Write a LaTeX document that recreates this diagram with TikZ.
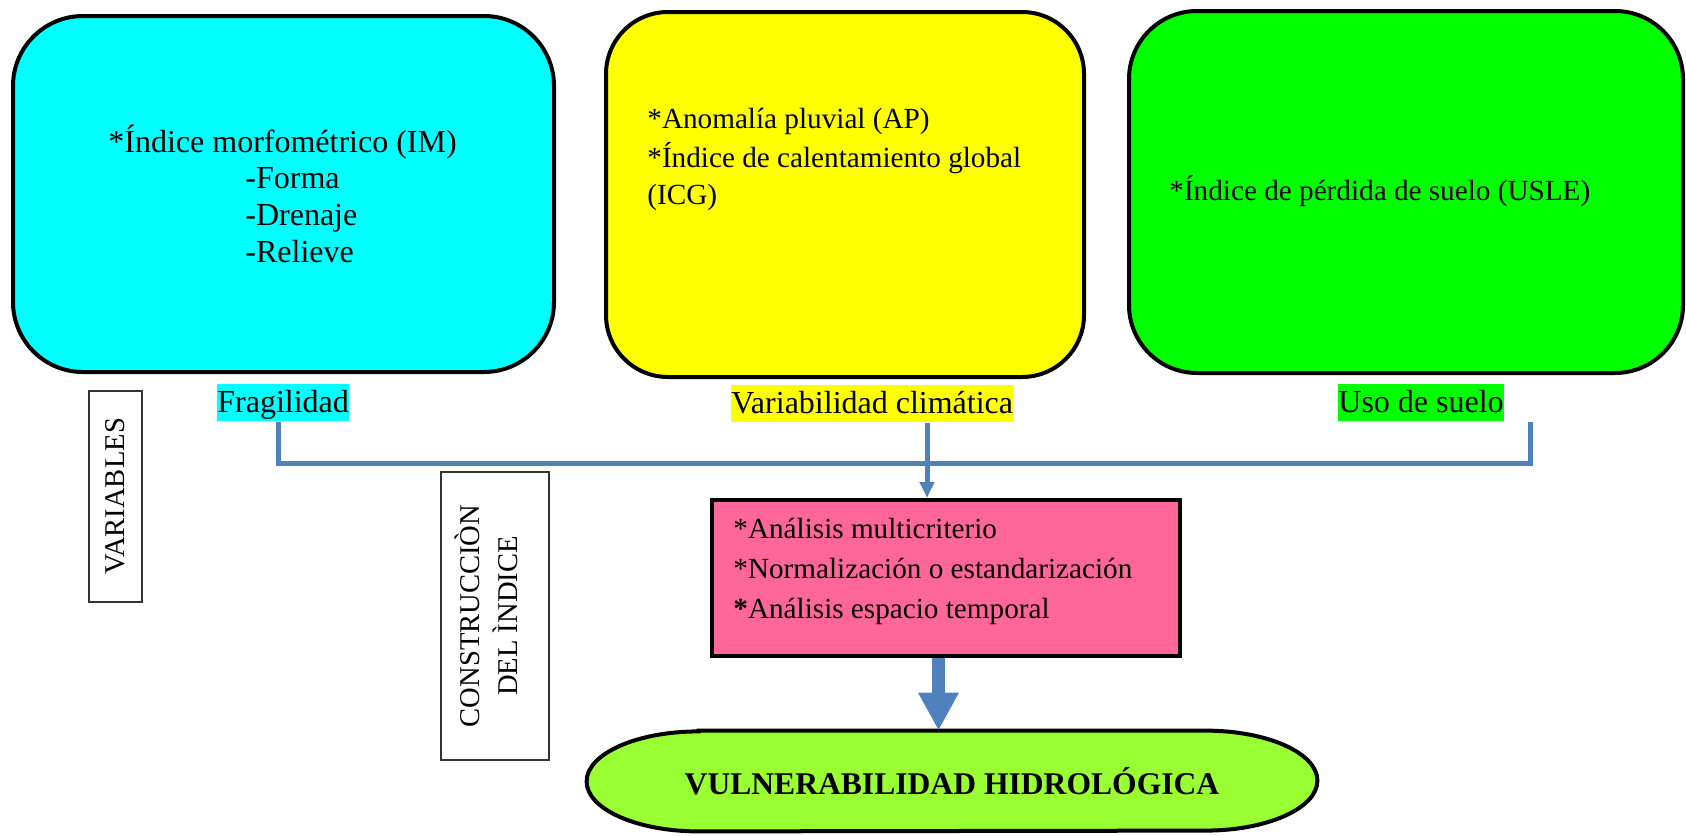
\documentclass[tikz,border=0pt]{standalone}
\usepackage{fontspec}
\setmainfont{Liberation Serif}
\usetikzlibrary{arrows.meta,backgrounds}

\definecolor{fragcol}{HTML}{00FFFF}
\definecolor{climcol}{HTML}{FFFF00}
\definecolor{suelocol}{HTML}{00FF00}
\definecolor{pinkcol}{HTML}{FF6699}
\definecolor{limecol}{HTML}{99FF33}
\definecolor{linkblue}{HTML}{4F81BD}

\begin{document}
\begin{tikzpicture}[x=0.5pt,y=0.5pt,
  card/.style={draw=black, line width=2pt, inner sep=0pt},
  lbl/.style={anchor=north west, inner xsep=0pt, inner ysep=0pt,
    text height=14pt, text depth=4.5pt, font=\fontsize{16}{19}\selectfont},
  bigline/.style={anchor=base west, inner sep=0pt, font=\fontsize{16}{19}\selectfont},
  midline/.style={anchor=base west, inner sep=0pt, font=\fontsize{14.6}{17}\selectfont},
  sidebox/.style={draw=black!80, line width=0.8pt, inner sep=0pt},
  vtext/.style={rotate=90, align=center, inner sep=0pt, font=\fontsize{14.3}{19}\selectfont},
  conn/.style={draw=linkblue, line width=2.5pt, line join=miter},
]
\useasboundingbox (0,0) rectangle (1686,-835);

% the three variable cards
\node[card, fill=fragcol, rounded corners=35pt, minimum width=270.5pt, minimum height=178pt] (frag) at (283.5,-194) {};
\node[card, fill=climcol, rounded corners=31pt, minimum width=239pt, minimum height=182.5pt] (clim) at (845,-194.5) {};
\node[card, fill=suelocol, rounded corners=34pt, minimum width=277pt, minimum height=181pt] (suelo) at (1406,-192) {};

% card contents
\node[bigline] (im1) at (108,-152) {*Índice morfométrico (IM)};
\node[bigline] (im2) at (245,-188) {-Forma};
\node[bigline] (im3) at (245,-225) {-Drenaje};
\node[bigline] (im4) at (245,-262) {-Relieve};

\node[midline] (ap)   at (647,-128) {*Anomalía pluvial (AP)};
\node[midline] (icg1) at (647,-167) {*Índice de calentamiento global};
\node[midline] (icg2) at (647,-204) {(ICG)};

\node[midline] (usle) at (1169,-200) {*Índice de pérdida de suelo (USLE)};

% highlighted captions
\node[lbl, fill=fragcol]  (fraglbl)  at (217,-384)  {Fragilidad};
\node[lbl, fill=climcol]  (climlbl)  at (731,-385)  {Variabilidad climática};
\node[lbl, fill=suelocol] (suelolbl) at (1338,-384) {Uso de suelo};

% side headings
\node[sidebox, rotate=90, minimum width=105.5pt, minimum height=26.5pt,
      font=\fontsize{14.3}{17}\selectfont] (vars) at (115.5,-496.5) {VARIABLES};
\node[sidebox, minimum width=54pt, minimum height=144pt] (cons) at (495,-616) {};
\node[vtext] (constxt) at (486,-616) {CONSTRUCCIÒN\\DEL ÌNDICE};

% index construction step
\node[card, fill=pinkcol, minimum width=234pt, minimum height=78pt] (proc) at (946,-578) {};
\node[midline] (p1) at (733,-538) {*Análisis multicriterio};
\node[midline] (p2) at (733,-578) {*Normalización o estandarización};
\node[midline] (p3) at (733,-618) {\textbf{*}Análisis espacio temporal};

% result
\node[inner sep=0pt, minimum width=365pt, minimum height=50pt,
      font=\bfseries\fontsize{15.8}{19}\selectfont] (vul) at (952,-781) {VULNERABILIDAD HIDROLÓGICA};
\begin{scope}[on background layer]
  \draw[line width=2pt, fill=limecol]
    ([xshift=56pt]vul.north west) -- ([xshift=-56pt]vul.north east)
    arc[start angle=90, end angle=-90, x radius=112, y radius=50]
    -- ([xshift=56pt]vul.south west)
    arc[start angle=270, end angle=90, x radius=112, y radius=50] -- cycle;
\end{scope}

% connectors
\coordinate (jl) at (278,-463);
\coordinate (jr) at (1530,-463);
\coordinate (vx) at (927,-463);
\coordinate (tx) at (938.5,-700);
\draw[conn] (jl |- fraglbl.south) -- (jl) -- (jr) -- (jr |- suelolbl.south);
\draw[conn, -{Triangle[width=7pt,length=8pt]}] (vx |- climlbl.south) -- (vx |- proc.north);
\draw[draw=linkblue, line width=6.5pt, -{Triangle[width=19pt,length=19pt]}]
  (tx |- proc.south) -- (tx |- vul.north);
\end{tikzpicture}
\end{document}
